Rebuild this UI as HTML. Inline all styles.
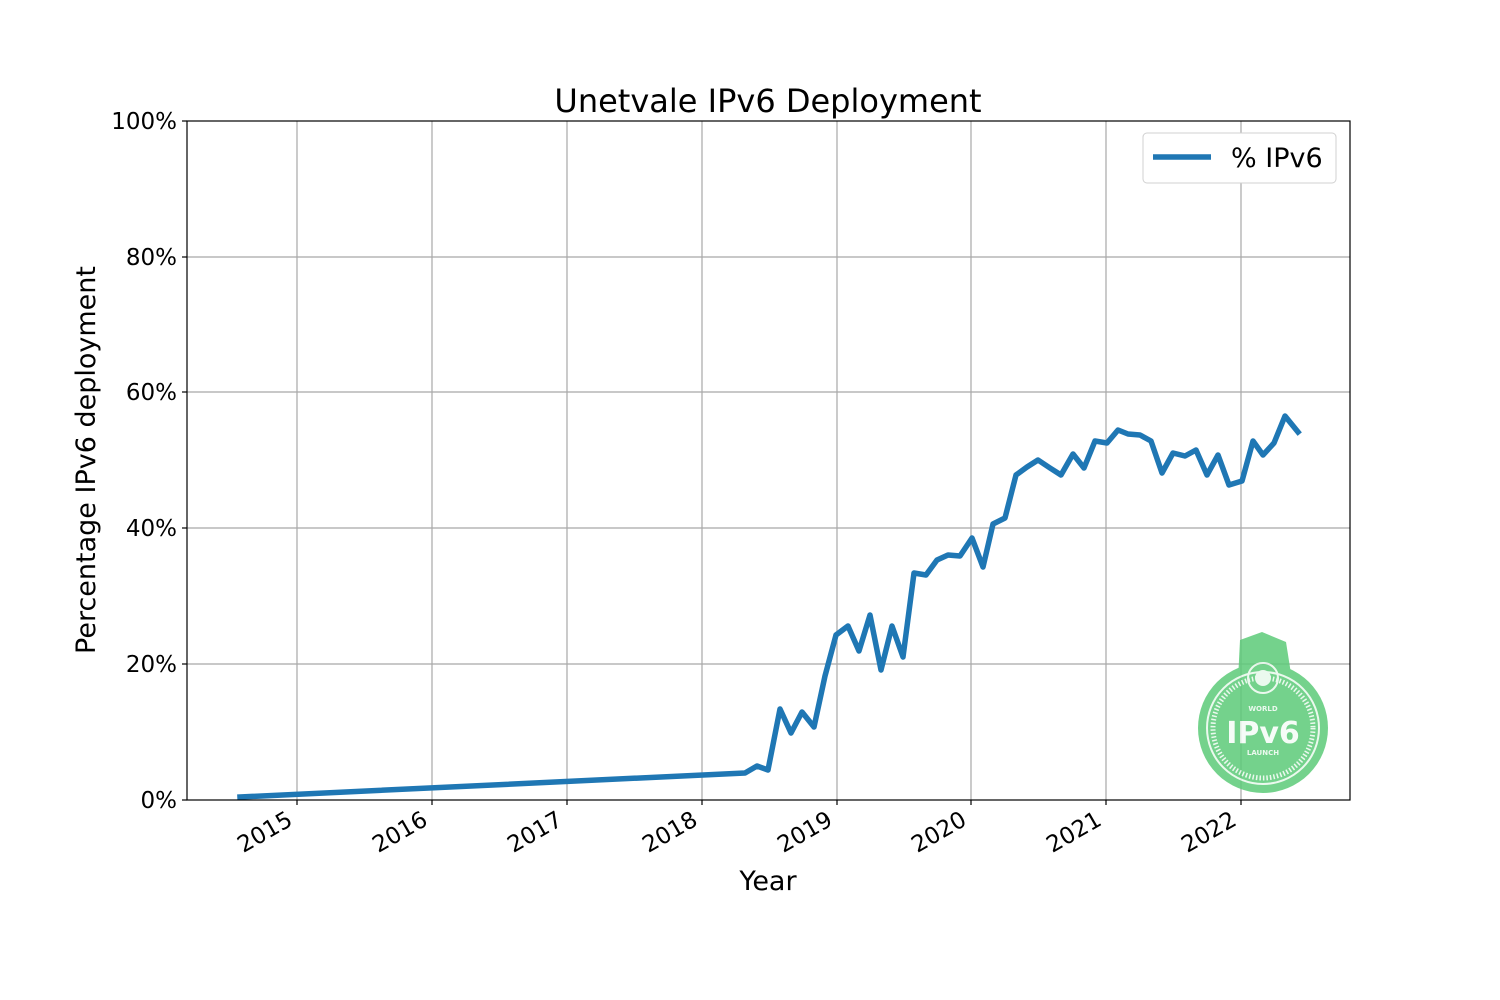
<!DOCTYPE html>
<html><head><meta charset="utf-8"><style>html,body{margin:0;padding:0;background:#fff}svg{display:block}</style></head>
<body>
<svg width="1500" height="1000" xmlns="http://www.w3.org/2000/svg" font-family="'DejaVu Sans','Liberation Sans',sans-serif">
<rect width="1500" height="1000" fill="#fff"/>
<g stroke="#a8a8a8" stroke-width="1.2">
<line x1="297" y1="121" x2="297" y2="800"/><line x1="432" y1="121" x2="432" y2="800"/>
<line x1="567" y1="121" x2="567" y2="800"/><line x1="702" y1="121" x2="702" y2="800"/>
<line x1="837" y1="121" x2="837" y2="800"/><line x1="971" y1="121" x2="971" y2="800"/>
<line x1="1106" y1="121" x2="1106" y2="800"/><line x1="1241" y1="121" x2="1241" y2="800"/>
<line x1="187" y1="664" x2="1350" y2="664"/><line x1="187" y1="528" x2="1350" y2="528"/>
<line x1="187" y1="392" x2="1350" y2="392"/><line x1="187" y1="257" x2="1350" y2="257"/>
</g>
<g opacity="0.85">
<path d="M1238,680 L1240,640 L1262,632 L1286,642 L1292,680 Z" fill="#5ccb78"/>
<circle cx="1263" cy="728" r="65" fill="#5ccb78"/>
<circle cx="1263" cy="728" r="56" fill="none" stroke="#e8f8ec" stroke-width="2"/>
<circle cx="1263" cy="728" r="50" fill="none" stroke="#e8f8ec" stroke-width="5" stroke-dasharray="1.5 2"/>
<circle cx="1263" cy="678" r="15" fill="none" stroke="#e8f8ec" stroke-width="2"/>
<circle cx="1263" cy="678" r="8" fill="#e8f8ec"/>
<text x="1263" y="711" font-size="7" fill="#e8f8ec" text-anchor="middle" font-weight="bold">WORLD</text>
<text x="1263" y="743" font-size="30" fill="#f4fcf6" text-anchor="middle" font-weight="bold">IPv6</text>
<text x="1263" y="755" font-size="7" fill="#e8f8ec" text-anchor="middle" font-weight="bold">LAUNCH</text>
</g>
<polyline fill="none" stroke="#1f77b4" stroke-width="5.5" stroke-linejoin="round" stroke-linecap="square" points="240,797 745,773 757,766 768,770 780,709 791,733 802,712 814,727 825,676 836,635 848,626 859,651 870,615 881,670 892,626 903,657 914,573 926,575 937,560 948,555 960,556 972,538 983,567 993,524 1005,518 1016,475 1027,467 1038,460 1050,468 1061,475 1073,454 1084,468 1095,441 1107,443 1118,430 1128,434 1140,435 1151,441 1162,473 1173,453 1185,456 1196,450 1207,475 1218,455 1229,485 1242,481 1253,441 1263,455 1274,443 1285,416 1298,432"/>
<rect x="187" y="121" width="1163" height="679" fill="none" stroke="#000" stroke-width="1.2"/>
<g stroke="#000" stroke-width="1.2">
<line x1="297" y1="800" x2="297" y2="805"/><line x1="432" y1="800" x2="432" y2="805"/>
<line x1="567" y1="800" x2="567" y2="805"/><line x1="702" y1="800" x2="702" y2="805"/>
<line x1="837" y1="800" x2="837" y2="805"/><line x1="971" y1="800" x2="971" y2="805"/>
<line x1="1106" y1="800" x2="1106" y2="805"/><line x1="1241" y1="800" x2="1241" y2="805"/>
<line x1="182" y1="800" x2="187" y2="800"/><line x1="182" y1="664" x2="187" y2="664"/>
<line x1="182" y1="528" x2="187" y2="528"/><line x1="182" y1="392" x2="187" y2="392"/>
<line x1="182" y1="257" x2="187" y2="257"/><line x1="182" y1="121" x2="187" y2="121"/>
</g>
<g font-size="23" text-anchor="end" fill="#000">
<text x="177" y="808">0%</text><text x="177" y="672">20%</text><text x="177" y="536">40%</text>
<text x="177" y="400">60%</text><text x="177" y="265">80%</text><text x="177" y="129">100%</text>
<text transform="translate(294,824) rotate(-30)">2015</text>
<text transform="translate(429,824) rotate(-30)">2016</text>
<text transform="translate(564,824) rotate(-30)">2017</text>
<text transform="translate(699,824) rotate(-30)">2018</text>
<text transform="translate(834,824) rotate(-30)">2019</text>
<text transform="translate(968,824) rotate(-30)">2020</text>
<text transform="translate(1103,824) rotate(-30)">2021</text>
<text transform="translate(1238,824) rotate(-30)">2022</text>
</g>
<text x="768" y="890" font-size="27" text-anchor="middle">Year</text>
<text transform="translate(95,460) rotate(-90)" font-size="27" text-anchor="middle">Percentage IPv6 deployment</text>
<text x="768" y="112" font-size="32" text-anchor="middle">Unetvale IPv6 Deployment</text>
<rect x="1143" y="133" width="193" height="50" rx="4" fill="#fff" stroke="#d0d0d0"/>
<line x1="1153" y1="157" x2="1211" y2="157" stroke="#1f77b4" stroke-width="5.5"/>
<text x="1231" y="167" font-size="27">% IPv6</text>
</svg>
</body></html>
